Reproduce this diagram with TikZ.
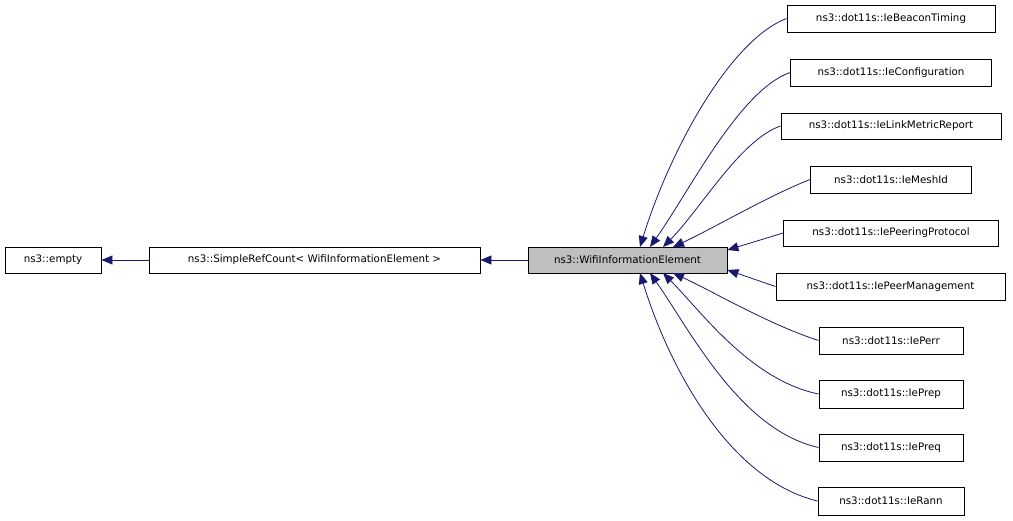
\documentclass[tikz,border=0pt]{standalone}
\usepackage{fontspec}
\setmainfont{DejaVu Sans}
\usetikzlibrary{arrows.meta}
\definecolor{edge}{HTML}{191970}
\begin{document}
\begin{tikzpicture}[x=1pt,y=-1pt,
  box/.style={draw=black,line width=0.9pt,fill=white,inner sep=0pt,font=\fontsize{10.3}{12}\selectfont,anchor=center},
  inh/.style={draw=edge,line width=0.8pt,-{Triangle[length=11pt,width=9pt]}}]
\useasboundingbox (0,0) rectangle (1013,520);
\node[box,minimum width=96pt,minimum height=26pt] (empty) at (53,260) {ns3::empty};
\node[box,minimum width=331pt,minimum height=26pt] (src) at (314.5,260) {ns3::SimpleRefCount< WifiInformationElement >};
\node[box,fill={rgb,255:red,191;green,191;blue,191},minimum width=199pt,minimum height=26pt] (wie) at (627.5,260) {ns3::WifiInformationElement};
\node[box,minimum width=208pt,minimum height=27pt] (bt) at (891,18.5) {ns3::dot11s::IeBeaconTiming};
\node[box,minimum width=201pt,minimum height=27pt] (cf) at (891,72.5) {ns3::dot11s::IeConfiguration};
\node[box,minimum width=220pt,minimum height=26pt] (lm) at (891,126) {ns3::dot11s::IeLinkMetricReport};
\node[box,minimum width=161pt,minimum height=27pt] (mi) at (891,179.5) {ns3::dot11s::IeMeshId};
\node[box,minimum width=215pt,minimum height=26pt] (pp) at (891,233) {ns3::dot11s::IePeeringProtocol};
\node[box,minimum width=229pt,minimum height=27pt] (pm) at (890.5,286.5) {ns3::dot11s::IePeerManagement};
\node[box,minimum width=144pt,minimum height=27pt] (pe) at (891,340.5) {ns3::dot11s::IePerr};
\node[box,minimum width=144pt,minimum height=28pt] (pr) at (891,394) {ns3::dot11s::IePrep};
\node[box,minimum width=144pt,minimum height=27pt] (pq) at (891,447.5) {ns3::dot11s::IePreq};
\node[box,minimum width=146pt,minimum height=28pt] (ra) at (891,501) {ns3::dot11s::IeRann};
\draw[inh] (src.west) -- (empty.east);
\draw[inh] (wie.west) -- (src.east);
\coordinate (t1) at (640,247); \coordinate (t2) at (650,247);
\coordinate (t3) at (663,247); \coordinate (t4) at (673,247);
\coordinate (b1) at (640,273); \coordinate (b2) at (650,273);
\coordinate (b3) at (663,273); \coordinate (b4) at (673,273);
\draw[inh] (bt.west) .. controls (730,40) and (670,150) .. (t1);
\draw[inh] (cf.west) .. controls (740,90) and (690,190) .. (t2);
\draw[inh] (lm.west) .. controls (740,140) and (700,210) .. (t3);
\draw[inh] (mi.west) .. controls (770,195) and (710,230) .. (t4);
\draw[inh] (pp.west) -- (wie.east |- 0,250);
\draw[inh] (pm.west) -- (wie.east |- 0,270);
\draw[inh] (pe.west) .. controls (770,325) and (710,290) .. (b4);
\draw[inh] (pr.west) .. controls (750,380) and (700,310) .. (b3);
\draw[inh] (pq.west) .. controls (740,430) and (690,330) .. (b2);
\draw[inh] (ra.west) .. controls (730,480) and (670,370) .. (b1);
\end{tikzpicture}
\end{document}
